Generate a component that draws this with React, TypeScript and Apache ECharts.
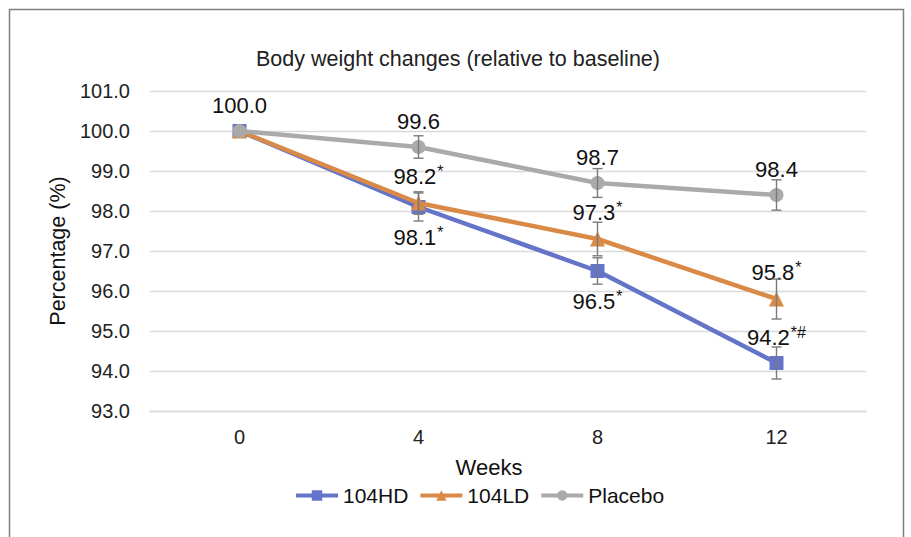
import React, { useEffect, useRef } from "react";
import * as echarts from "echarts";

const weeks = ["0", "4", "8", "12"];
const seriesNames = ["104HD", "104LD", "Placebo"];
const hdValues = [100.0, 98.1, 96.5, 94.2];
const ldValues = [100.0, 98.2, 97.3, 95.8];
const placeboValues = [100.0, 99.6, 98.7, 98.4];
const hdErr = [0, 0.35, 0.33, 0.4];
const ldErr = [0, 0.28, 0.42, 0.5];
const placeboErr = [0, 0.28, 0.36, 0.38];
const hdMarks = ["", "*", "*", "*#"];
const ldMarks = ["", "*", "*", "*"];
const placeboMarks = ["", "", "", ""];
const hdLabelPos = ["none", "bottom", "bottom", "top"];
const ldLabelPos = ["none", "top", "top", "top"];
const placeboLabelPos = ["top", "top", "top", "top"];
const yTicks = { min: 93, max: 101, interval: 1 };

const colors = ["#6474C8", "#D98A47", "#AAAAAA"];
const FONT = "'Liberation Sans', Arial, sans-serif";

function buildData(values: number[], marks: string[], pos: string[]) {
  return values.map((v, i) => {
    if (pos[i] === "none") return { value: v, label: { show: false } };
    const txt = marks[i]
      ? `{v|${v.toFixed(1)}}{s|${marks[i]}}`
      : `{v|${v.toFixed(1)}}`;
    return {
      value: v,
      label: {
        show: true,
        position: pos[i],
        distance: pos[i] === "top" ? 6 : 10,
        formatter: txt,
      },
    };
  });
}

function errData(values: number[], errs: number[]) {
  return values.map((v, i) => [i, v - errs[i], v + errs[i]]);
}

const richLabel = {
  v: { fontSize: 22, color: "#111", fontFamily: FONT, lineHeight: 26 },
  s: {
    fontSize: 16,
    color: "#111",
    fontFamily: FONT,
    verticalAlign: "top",
    lineHeight: 26,
    padding: [0, 0, 12, 1],
  },
};

export default function App() {
  const ref = useRef<HTMLDivElement>(null);
  useEffect(() => {
    if (!ref.current) return;
    const chart = echarts.init(ref.current, undefined, { renderer: "svg" });

    const lineSeries = [
      { name: seriesNames[0], values: hdValues, marks: hdMarks, pos: hdLabelPos, symbol: "rect", size: 14 },
      { name: seriesNames[1], values: ldValues, marks: ldMarks, pos: ldLabelPos, symbol: "triangle", size: 15 },
      { name: seriesNames[2], values: placeboValues, marks: placeboMarks, pos: placeboLabelPos, symbol: "circle", size: 14 },
    ].map((s, idx) => ({
      type: "line",
      name: s.name,
      data: buildData(s.values, s.marks, s.pos),
      symbol: s.symbol,
      symbolSize: s.size,
      showAllSymbol: true,
      itemStyle: { color: colors[idx] },
      lineStyle: { color: colors[idx], width: 4.5 },
      label: { rich: richLabel },
      z: 2 + idx,
    }));

    const errSeries = [
      errData(hdValues, hdErr),
      errData(ldValues, ldErr),
      errData(placeboValues, placeboErr),
    ].map((d) => ({
      type: "custom",
      data: d,
      z: 10,
      silent: true,
      encode: { x: 0, y: [1, 2] },
      renderItem: (params: any, api: any) => {
        const x = api.value(0);
        const lo = api.value(1);
        const hi = api.value(2);
        if (hi - lo < 1e-6) return null;
        const p1 = api.coord([x, hi]);
        const p2 = api.coord([x, lo]);
        const cap = 5;
        const style = { stroke: "#7a7a7a", lineWidth: 1.4 };
        return {
          type: "group",
          children: [
            { type: "line", shape: { x1: p1[0], y1: p1[1], x2: p2[0], y2: p2[1] }, style },
            { type: "line", shape: { x1: p1[0] - cap, y1: p1[1], x2: p1[0] + cap, y2: p1[1] }, style },
            { type: "line", shape: { x1: p2[0] - cap, y1: p2[1], x2: p2[0] + cap, y2: p2[1] }, style },
          ],
        };
      },
    }));

    chart.setOption({
      animation: false,
      backgroundColor: "#fff",
      textStyle: { fontFamily: FONT },
      title: {
        text: "Body weight changes (relative to baseline)",
        left: 453,
        textAlign: "center",
        top: 43,
        textStyle: { fontSize: 21.5, fontWeight: "normal", color: "#222", fontFamily: FONT },
      },
      legend: {
        data: seriesNames,
        top: 480,
        left: 289,
        itemWidth: 42,
        itemHeight: 13,
        itemGap: 10,
        lineStyle: { width: 4 },
        textStyle: { fontSize: 21, color: "#111", fontFamily: FONT },
      },
      grid: { left: 150, right: 45, top: 91, bottom: 126 },
      xAxis: {
        type: "category",
        data: weeks,
        boundaryGap: true,
        name: "Weeks",
        nameLocation: "middle",
        nameGap: 45,
        nameTextStyle: {
          fontSize: 22,
          color: "#111",
          fontFamily: FONT,
          padding: [0, 38, 0, 0],
        },
        axisLine: { show: true, lineStyle: { color: "#d9d9d9", width: 1.3 } },
        axisTick: { show: false },
        axisLabel: { fontSize: 20, color: "#222", margin: 16, fontFamily: FONT },
      },
      yAxis: {
        type: "value",
        min: yTicks.min,
        max: yTicks.max,
        interval: yTicks.interval,
        name: "Percentage (%)",
        nameLocation: "middle",
        nameGap: 81,
        nameTextStyle: { fontSize: 21.5, color: "#111", fontFamily: FONT },
        axisLine: { show: false },
        axisTick: { show: false },
        axisLabel: {
          fontSize: 20,
          color: "#222",
          margin: 20,
          fontFamily: FONT,
          formatter: (v: number) => v.toFixed(1),
        },
        splitLine: { lineStyle: { color: "#d9d9d9", width: 1.3 } },
      },
      graphic: [
        {
          type: "rect",
          shape: { x: 9.5, y: 9.5, width: 894, height: 600 },
          style: { fill: "none", stroke: "#7f7f7f", lineWidth: 1.5 },
          silent: true,
          z: 100,
        },
      ],
      series: [...lineSeries, ...errSeries],
    });
    return () => chart.dispose();
  }, []);
  return (
    <div
      ref={ref}
      style={{ position: "fixed", left: 0, top: 0, width: 911, height: 537 }}
    />
  );
}
